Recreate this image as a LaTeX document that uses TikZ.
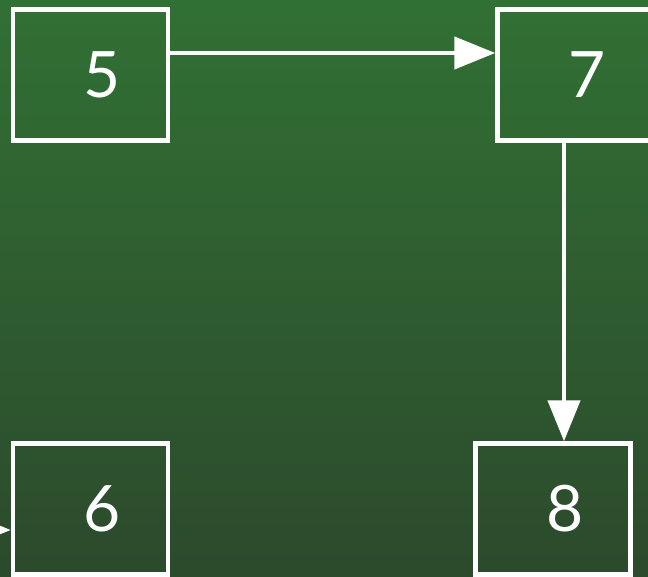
\documentclass[tikz,border=0pt]{standalone}
\usepackage{fontspec}
\setmainfont{Lato}
\usetikzlibrary{arrows.meta}
\definecolor{bgtop}{RGB}{49,112,52}
\definecolor{bgbot}{RGB}{44,74,44}
\begin{document}
\begin{tikzpicture}[x=1pt,y=-1pt,
  box/.style={draw=white, line width=4.5pt, minimum width=155pt, minimum height=131pt, inner sep=0pt, text=white, font=\fontsize{64}{64}\selectfont},
  arr/.style={draw=white, line width=4.5pt, -{Triangle[length=41pt,width=32pt]}}]
\clip (0,0) rectangle (648,576);
\shade[top color=bgtop, bottom color=bgbot] (0,0) rectangle (648,576);
\node[box] (n5) at (90.5,75) {\hspace*{24pt}5};
\node[box] (n7) at (575,75) {\hspace*{24pt}7};
\node[box] (n6) at (90.5,509) {\hspace*{24pt}6};
\node[box] (n8) at (553,509) {\hspace*{24pt}8};
\coordinate (in6) at (-60,530);
\draw[arr] ([yshift=22pt]n5.east) -- ([yshift=22pt]n7.west);
\draw[arr] ([xshift=-11pt]n7.south) -- ([xshift=11pt]n8.north);
\draw[arr] (in6) -- ([yshift=-21pt]n6.west);
\end{tikzpicture}
\end{document}
